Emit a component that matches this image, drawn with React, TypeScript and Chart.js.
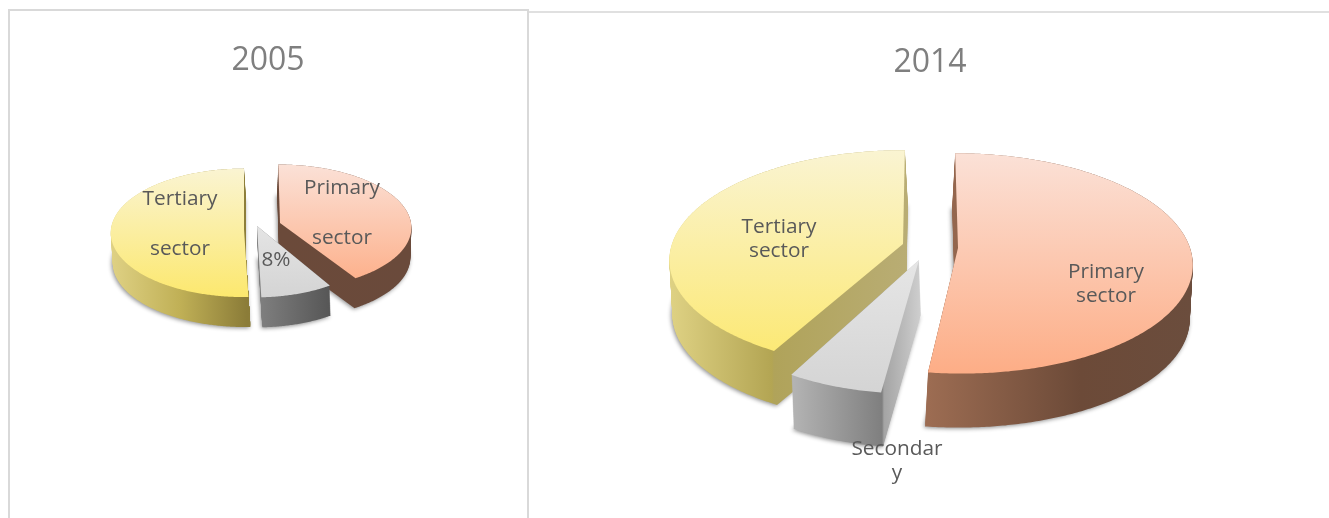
import React, { useEffect, useRef } from "react";
import { Chart, registerables } from "chart.js";

Chart.register(...registerables);

const categories = ["Primary sector", "Secondary sector", "Tertiary sector"];
const values2005 = [41, 8.5, 50.5];
const values2014 = [52, 6, 42];
const title2005 = "2005";
const title2014 = "2014";

const topColours = [
  ["#fbe1d7", "#fdad86"],
  ["#f3f3f3", "#d4d4d4"],
  ["#faf4d2", "#fce86e"],
];
const baseColours = ["#fdc4a6", "#e2e2e2", "#fbeea0"];
const paintOrder = [2, 0, 1];

type Slice = { cx: number; cy: number; rx: number; ry: number; p: number; skew: number; wallDx: number; side: [number, string][] };
type Lbl = { lines: string[]; x: number; y: number };
type Look = { left: number; width: number; depth: number; slices: Slice[]; labels: Lbl[]; font: number; gap: number };

const look2005: Look = {
  left: 8,
  width: 520,
  depth: 30,
  font: 20.8,
  gap: 50,
  slices: [
    { cx: 280, cy: 223, rx: 131, ry: 62, p: 0.06, skew: 0.03, wallDx: -1,
      side: [[278, "#6b4a3a"], [411, "#6a4a3b"]] },
    { cx: 257, cy: 226, rx: 129, ry: 67, p: 0.06, skew: 0, wallDx: 1,
      side: [[258, "#808080"], [332, "#555555"]] },
    { cx: 244, cy: 229, rx: 133, ry: 64, p: 0.06, skew: 0, wallDx: 2,
      side: [[111, "#dfd184"], [180, "#c0b056"], [247, "#8b7c38"]] },
  ],
  labels: [
    { lines: ["Primary", "sector"], x: 342, y: 188 },
    { lines: ["8%"], x: 276, y: 260 },
    { lines: ["Tertiary", "sector"], x: 180, y: 199 },
  ],
};

const look2014: Look = {
  left: 528,
  width: 804,
  depth: 54,
  font: 20.8,
  gap: 24,
  slices: [
    { cx: 958, cy: 248, rx: 232, ry: 108, p: 0.14, skew: 0.03, wallDx: -3,
      side: [[929, "#9c6c52"], [1080, "#6c4a38"], [1192, "#6b4d3d"]] },
    { cx: 919, cy: 260, rx: 224, ry: 115, p: 0.14, skew: -0.04, wallDx: 2,
      side: [[792, "#b4b4b4"], [882, "#7f7f7f"], [884, "#a4a4a4"], [921, "#cfcfcf"]] },
    { cx: 903, cy: 244, rx: 231, ry: 107, p: 0.14, skew: -0.02, wallDx: 3,
      side: [[669, "#dfd284"], [772, "#b3a553"], [774, "#b0a35a"], [908, "#b9ad74"]] },
  ],
  labels: [
    { lines: ["Primary", "sector"], x: 1106, y: 272 },
    { lines: ["Secondar", "y"], x: 897, y: 449 },
    { lines: ["Tertiary", "sector"], x: 779, y: 227 },
  ],
};

function slicePath(ctx: CanvasRenderingContext2D, s: Slice, ox: number, start: number, end: number, dx: number, dy: number) {
  const at = (a: number) => {
    const w = 1 - s.p * Math.sin(a);
    const yy = (s.ry * Math.sin(a)) / w;
    return [s.cx - ox + dx + (s.rx * Math.cos(a)) / w + s.skew * yy, s.cy + dy + yy];
  };
  const n = Math.max(8, Math.ceil((end - start) / 0.01));
  ctx.beginPath();
  ctx.moveTo(s.cx - ox + dx, s.cy + dy);
  for (let i = 0; i <= n; i++) {
    const [x, y] = at(start + ((end - start) * i) / n);
    ctx.lineTo(x, y);
  }
  ctx.closePath();
}

function makePlugin(look: Look) {
  return {
    id: "pie3d",
    beforeDatasetDraw(chart: any) {
      const ctx: CanvasRenderingContext2D = chart.ctx;
      const arcs = chart.getDatasetMeta(0).data;
      paintOrder.forEach((i) => {
        const s = look.slices[i];
        const { startAngle, endAngle } = arcs[i];
        const side = ctx.createLinearGradient(s.side[0][0] - look.left, 0, s.side[s.side.length - 1][0] - look.left, 0);
        const x0 = s.side[0][0];
        const span = s.side[s.side.length - 1][0] - x0;
        s.side.forEach(([x, c]) => side.addColorStop((x - x0) / span, c));
        ctx.save();
        ctx.shadowColor = "rgba(0,0,0,0.45)";
        ctx.shadowBlur = 4;
        ctx.shadowOffsetX = -1;
        ctx.shadowOffsetY = 1;
        ctx.fillStyle = side;
        slicePath(ctx, s, look.left, startAngle, endAngle, s.wallDx, look.depth);
        ctx.fill();
        ctx.restore();
        ctx.fillStyle = side;
        for (let d = look.depth - 1; d >= 0; d--) {
          slicePath(ctx, s, look.left, startAngle, endAngle, (s.wallDx * d) / look.depth, d);
          ctx.fill();
        }
        const yTop = s.cy - s.ry / (1 + s.p);
        const yBot = s.cy + s.ry / (1 - s.p);
        const face = ctx.createLinearGradient(0, yTop, 0, yBot);
        face.addColorStop(0, topColours[i][0]);
        face.addColorStop(1, topColours[i][1]);
        ctx.fillStyle = face;
        slicePath(ctx, s, look.left, startAngle, endAngle, 0, 0);
        ctx.fill();
      });
      return false;
    },
    afterDatasetsDraw(chart: any) {
      const ctx: CanvasRenderingContext2D = chart.ctx;
      ctx.save();
      ctx.font = `${look.font}px "Open Sans"`;
      ctx.fillStyle = "#595959";
      ctx.textAlign = "center";
      ctx.textBaseline = "middle";
      look.labels.forEach((l) => {
        l.lines.forEach((t, k) => ctx.fillText(t, l.x - look.left, l.y + k * look.gap));
      });
      ctx.restore();
    },
  };
}

function Pie({ values, title, look, titleTop }: { values: number[]; title: string; look: Look; titleTop: number }) {
  const ref = useRef<HTMLCanvasElement>(null);
  useEffect(() => {
    document.body.style.margin = "0";
    const chart = new Chart(ref.current!, {
      type: "pie",
      data: {
        labels: categories,
        datasets: [{ data: values, backgroundColor: baseColours, borderWidth: 0 }],
      },
      options: {
        responsive: false,
        animation: false,
        plugins: {
          legend: { display: false },
          tooltip: { enabled: false },
          title: {
            display: true,
            text: title,
            color: "#7f7f7f",
            font: { family: '"Open Sans"', size: 32, weight: "normal", lineHeight: 1.2 },
            padding: { top: titleTop, bottom: 0 },
          },
        },
      } as any,
      plugins: [makePlugin(look)],
    });
    return () => chart.destroy();
  }, []);
  return (
    <canvas
      ref={ref}
      width={look.width}
      height={518}
      style={{ position: "absolute", left: look.left, top: 0, width: look.width, height: 518 }}
    />
  );
}

export default function App() {
  return (
    <div style={{ position: "relative", width: 1329, height: 518, overflow: "hidden", background: "#fff" }}>
      <div style={{ position: "absolute", left: 8, top: 9, width: 521, height: 560, boxSizing: "border-box", border: "2px solid #d9d9d9" }} />
      <div style={{ position: "absolute", left: 529, top: 11, width: 800, height: 2, background: "#e0e0e0" }} />
      <Pie values={values2005} title={title2005} look={look2005} titleTop={42} />
      <Pie values={values2014} title={title2014} look={look2014} titleTop={44} />
    </div>
  );
}
